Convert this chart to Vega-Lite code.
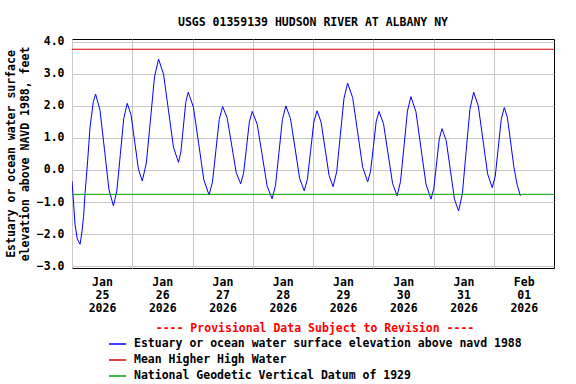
{
  "$schema": "https://vega.github.io/schema/vega-lite/v6.json",
  "width": 482,
  "height": 229,
  "autosize": {"type": "none"},
  "padding": {"left": 72, "top": 39, "right": 22, "bottom": 116},
  "background": "white",
  "config": {
    "font": "DejaVu Sans Mono",
    "view": {"stroke": "black", "strokeWidth": 1},
    "axis": {"labelFont": "DejaVu Sans Mono", "labelFontWeight": "bold", "labelFontSize": 11.5, "labelColor": "black", "titleFont": "DejaVu Sans Mono", "titleFontWeight": "bold", "titleFontSize": 11.5, "titleColor": "black", "gridColor": "#c8c8c8", "gridOpacity": 1, "gridWidth": 1, "ticks": false, "domain": false},
    "legend": {"labelFont": "DejaVu Sans Mono", "labelFontWeight": "bold", "labelFontSize": 11.5, "labelColor": "black", "titleFont": "DejaVu Sans Mono", "titleFontWeight": "bold", "titleFontSize": 11.5}
  },
  "title": {"text": "USGS 01359139 HUDSON RIVER AT ALBANY NY", "font": "DejaVu Sans Mono", "fontSize": 11.5, "fontWeight": "bold", "color": "black", "anchor": "middle", "offset": 7},
  "data": {"values": [
    {"t": "2026-01-25T00:00", "v": -0.34, "s": "Estuary or ocean water surface elevation above navd 1988"},
    {"t": "2026-01-25T00:36", "v": -1.0, "s": "Estuary or ocean water surface elevation above navd 1988"},
    {"t": "2026-01-25T01:12", "v": -1.7, "s": "Estuary or ocean water surface elevation above navd 1988"},
    {"t": "2026-01-25T02:06", "v": -2.15, "s": "Estuary or ocean water surface elevation above navd 1988"},
    {"t": "2026-01-25T03:12", "v": -2.32, "s": "Estuary or ocean water surface elevation above navd 1988"},
    {"t": "2026-01-25T03:54", "v": -1.97, "s": "Estuary or ocean water surface elevation above navd 1988"},
    {"t": "2026-01-25T04:36", "v": -1.46, "s": "Estuary or ocean water surface elevation above navd 1988"},
    {"t": "2026-01-25T05:12", "v": -0.73, "s": "Estuary or ocean water surface elevation above navd 1988"},
    {"t": "2026-01-25T06:15", "v": 0.31, "s": "Estuary or ocean water surface elevation above navd 1988"},
    {"t": "2026-01-25T07:12", "v": 1.35, "s": "Estuary or ocean water surface elevation above navd 1988"},
    {"t": "2026-01-25T08:30", "v": 2.13, "s": "Estuary or ocean water surface elevation above navd 1988"},
    {"t": "2026-01-25T09:24", "v": 2.37, "s": "Estuary or ocean water surface elevation above navd 1988"},
    {"t": "2026-01-25T11:10", "v": 1.86, "s": "Estuary or ocean water surface elevation above navd 1988"},
    {"t": "2026-01-25T12:57", "v": 0.63, "s": "Estuary or ocean water surface elevation above navd 1988"},
    {"t": "2026-01-25T14:43", "v": -0.61, "s": "Estuary or ocean water surface elevation above navd 1988"},
    {"t": "2026-01-25T16:30", "v": -1.12, "s": "Estuary or ocean water surface elevation above navd 1988"},
    {"t": "2026-01-25T17:52", "v": -0.65, "s": "Estuary or ocean water surface elevation above navd 1988"},
    {"t": "2026-01-25T19:15", "v": 0.48, "s": "Estuary or ocean water surface elevation above navd 1988"},
    {"t": "2026-01-25T20:37", "v": 1.61, "s": "Estuary or ocean water surface elevation above navd 1988"},
    {"t": "2026-01-25T22:00", "v": 2.08, "s": "Estuary or ocean water surface elevation above navd 1988"},
    {"t": "2026-01-25T23:30", "v": 1.73, "s": "Estuary or ocean water surface elevation above navd 1988"},
    {"t": "2026-01-26T01:00", "v": 0.87, "s": "Estuary or ocean water surface elevation above navd 1988"},
    {"t": "2026-01-26T02:30", "v": 0.01, "s": "Estuary or ocean water surface elevation above navd 1988"},
    {"t": "2026-01-26T04:00", "v": -0.34, "s": "Estuary or ocean water surface elevation above navd 1988"},
    {"t": "2026-01-26T05:37", "v": 0.22, "s": "Estuary or ocean water surface elevation above navd 1988"},
    {"t": "2026-01-26T07:15", "v": 1.56, "s": "Estuary or ocean water surface elevation above navd 1988"},
    {"t": "2026-01-26T08:52", "v": 2.91, "s": "Estuary or ocean water surface elevation above navd 1988"},
    {"t": "2026-01-26T10:30", "v": 3.46, "s": "Estuary or ocean water surface elevation above navd 1988"},
    {"t": "2026-01-26T12:28", "v": 2.99, "s": "Estuary or ocean water surface elevation above navd 1988"},
    {"t": "2026-01-26T14:27", "v": 1.85, "s": "Estuary or ocean water surface elevation above navd 1988"},
    {"t": "2026-01-26T16:25", "v": 0.71, "s": "Estuary or ocean water surface elevation above navd 1988"},
    {"t": "2026-01-26T18:24", "v": 0.24, "s": "Estuary or ocean water surface elevation above navd 1988"},
    {"t": "2026-01-26T19:22", "v": 0.56, "s": "Estuary or ocean water surface elevation above navd 1988"},
    {"t": "2026-01-26T20:21", "v": 1.34, "s": "Estuary or ocean water surface elevation above navd 1988"},
    {"t": "2026-01-26T21:19", "v": 2.11, "s": "Estuary or ocean water surface elevation above navd 1988"},
    {"t": "2026-01-26T22:18", "v": 2.43, "s": "Estuary or ocean water surface elevation above navd 1988"},
    {"t": "2026-01-27T00:22", "v": 1.96, "s": "Estuary or ocean water surface elevation above navd 1988"},
    {"t": "2026-01-27T02:27", "v": 0.83, "s": "Estuary or ocean water surface elevation above navd 1988"},
    {"t": "2026-01-27T04:31", "v": -0.31, "s": "Estuary or ocean water surface elevation above navd 1988"},
    {"t": "2026-01-27T06:36", "v": -0.78, "s": "Estuary or ocean water surface elevation above navd 1988"},
    {"t": "2026-01-27T07:57", "v": -0.38, "s": "Estuary or ocean water surface elevation above navd 1988"},
    {"t": "2026-01-27T09:18", "v": 0.6, "s": "Estuary or ocean water surface elevation above navd 1988"},
    {"t": "2026-01-27T10:39", "v": 1.58, "s": "Estuary or ocean water surface elevation above navd 1988"},
    {"t": "2026-01-27T12:00", "v": 1.98, "s": "Estuary or ocean water surface elevation above navd 1988"},
    {"t": "2026-01-27T13:48", "v": 1.63, "s": "Estuary or ocean water surface elevation above navd 1988"},
    {"t": "2026-01-27T15:36", "v": 0.78, "s": "Estuary or ocean water surface elevation above navd 1988"},
    {"t": "2026-01-27T17:24", "v": -0.08, "s": "Estuary or ocean water surface elevation above navd 1988"},
    {"t": "2026-01-27T19:12", "v": -0.43, "s": "Estuary or ocean water surface elevation above navd 1988"},
    {"t": "2026-01-27T20:21", "v": -0.1, "s": "Estuary or ocean water surface elevation above navd 1988"},
    {"t": "2026-01-27T21:30", "v": 0.7, "s": "Estuary or ocean water surface elevation above navd 1988"},
    {"t": "2026-01-27T22:39", "v": 1.5, "s": "Estuary or ocean water surface elevation above navd 1988"},
    {"t": "2026-01-27T23:48", "v": 1.83, "s": "Estuary or ocean water surface elevation above navd 1988"},
    {"t": "2026-01-28T01:46", "v": 1.43, "s": "Estuary or ocean water surface elevation above navd 1988"},
    {"t": "2026-01-28T03:45", "v": 0.47, "s": "Estuary or ocean water surface elevation above navd 1988"},
    {"t": "2026-01-28T05:43", "v": -0.5, "s": "Estuary or ocean water surface elevation above navd 1988"},
    {"t": "2026-01-28T07:42", "v": -0.9, "s": "Estuary or ocean water surface elevation above navd 1988"},
    {"t": "2026-01-28T09:04", "v": -0.48, "s": "Estuary or ocean water surface elevation above navd 1988"},
    {"t": "2026-01-28T10:27", "v": 0.55, "s": "Estuary or ocean water surface elevation above navd 1988"},
    {"t": "2026-01-28T11:49", "v": 1.58, "s": "Estuary or ocean water surface elevation above navd 1988"},
    {"t": "2026-01-28T13:12", "v": 2.0, "s": "Estuary or ocean water surface elevation above navd 1988"},
    {"t": "2026-01-28T15:01", "v": 1.61, "s": "Estuary or ocean water surface elevation above navd 1988"},
    {"t": "2026-01-28T16:51", "v": 0.68, "s": "Estuary or ocean water surface elevation above navd 1988"},
    {"t": "2026-01-28T18:40", "v": -0.26, "s": "Estuary or ocean water surface elevation above navd 1988"},
    {"t": "2026-01-28T20:30", "v": -0.65, "s": "Estuary or ocean water surface elevation above navd 1988"},
    {"t": "2026-01-28T21:46", "v": -0.29, "s": "Estuary or ocean water surface elevation above navd 1988"},
    {"t": "2026-01-28T23:03", "v": 0.6, "s": "Estuary or ocean water surface elevation above navd 1988"},
    {"t": "2026-01-29T00:19", "v": 1.49, "s": "Estuary or ocean water surface elevation above navd 1988"},
    {"t": "2026-01-29T01:36", "v": 1.85, "s": "Estuary or ocean water surface elevation above navd 1988"},
    {"t": "2026-01-29T03:12", "v": 1.5, "s": "Estuary or ocean water surface elevation above navd 1988"},
    {"t": "2026-01-29T04:48", "v": 0.67, "s": "Estuary or ocean water surface elevation above navd 1988"},
    {"t": "2026-01-29T06:24", "v": -0.17, "s": "Estuary or ocean water surface elevation above navd 1988"},
    {"t": "2026-01-29T08:00", "v": -0.52, "s": "Estuary or ocean water surface elevation above navd 1988"},
    {"t": "2026-01-29T09:27", "v": -0.05, "s": "Estuary or ocean water surface elevation above navd 1988"},
    {"t": "2026-01-29T10:54", "v": 1.1, "s": "Estuary or ocean water surface elevation above navd 1988"},
    {"t": "2026-01-29T12:21", "v": 2.24, "s": "Estuary or ocean water surface elevation above navd 1988"},
    {"t": "2026-01-29T13:48", "v": 2.71, "s": "Estuary or ocean water surface elevation above navd 1988"},
    {"t": "2026-01-29T15:48", "v": 2.26, "s": "Estuary or ocean water surface elevation above navd 1988"},
    {"t": "2026-01-29T17:48", "v": 1.17, "s": "Estuary or ocean water surface elevation above navd 1988"},
    {"t": "2026-01-29T19:48", "v": 0.08, "s": "Estuary or ocean water surface elevation above navd 1988"},
    {"t": "2026-01-29T21:48", "v": -0.37, "s": "Estuary or ocean water surface elevation above navd 1988"},
    {"t": "2026-01-29T22:55", "v": -0.05, "s": "Estuary or ocean water surface elevation above navd 1988"},
    {"t": "2026-01-30T00:03", "v": 0.73, "s": "Estuary or ocean water surface elevation above navd 1988"},
    {"t": "2026-01-30T01:10", "v": 1.51, "s": "Estuary or ocean water surface elevation above navd 1988"},
    {"t": "2026-01-30T02:18", "v": 1.83, "s": "Estuary or ocean water surface elevation above navd 1988"},
    {"t": "2026-01-30T04:06", "v": 1.44, "s": "Estuary or ocean water surface elevation above navd 1988"},
    {"t": "2026-01-30T05:54", "v": 0.51, "s": "Estuary or ocean water surface elevation above navd 1988"},
    {"t": "2026-01-30T07:42", "v": -0.42, "s": "Estuary or ocean water surface elevation above navd 1988"},
    {"t": "2026-01-30T09:30", "v": -0.81, "s": "Estuary or ocean water surface elevation above navd 1988"},
    {"t": "2026-01-30T10:52", "v": -0.36, "s": "Estuary or ocean water surface elevation above navd 1988"},
    {"t": "2026-01-30T12:15", "v": 0.74, "s": "Estuary or ocean water surface elevation above navd 1988"},
    {"t": "2026-01-30T13:37", "v": 1.84, "s": "Estuary or ocean water surface elevation above navd 1988"},
    {"t": "2026-01-30T15:00", "v": 2.29, "s": "Estuary or ocean water surface elevation above navd 1988"},
    {"t": "2026-01-30T17:00", "v": 1.82, "s": "Estuary or ocean water surface elevation above navd 1988"},
    {"t": "2026-01-30T19:00", "v": 0.69, "s": "Estuary or ocean water surface elevation above navd 1988"},
    {"t": "2026-01-30T21:00", "v": -0.44, "s": "Estuary or ocean water surface elevation above navd 1988"},
    {"t": "2026-01-30T23:00", "v": -0.91, "s": "Estuary or ocean water surface elevation above navd 1988"},
    {"t": "2026-01-31T00:06", "v": -0.59, "s": "Estuary or ocean water surface elevation above navd 1988"},
    {"t": "2026-01-31T01:12", "v": 0.19, "s": "Estuary or ocean water surface elevation above navd 1988"},
    {"t": "2026-01-31T02:18", "v": 0.97, "s": "Estuary or ocean water surface elevation above navd 1988"},
    {"t": "2026-01-31T03:24", "v": 1.29, "s": "Estuary or ocean water surface elevation above navd 1988"},
    {"t": "2026-01-31T05:03", "v": 0.92, "s": "Estuary or ocean water surface elevation above navd 1988"},
    {"t": "2026-01-31T06:42", "v": 0.01, "s": "Estuary or ocean water surface elevation above navd 1988"},
    {"t": "2026-01-31T08:21", "v": -0.91, "s": "Estuary or ocean water surface elevation above navd 1988"},
    {"t": "2026-01-31T10:00", "v": -1.28, "s": "Estuary or ocean water surface elevation above navd 1988"},
    {"t": "2026-01-31T11:30", "v": -0.74, "s": "Estuary or ocean water surface elevation above navd 1988"},
    {"t": "2026-01-31T13:00", "v": 0.58, "s": "Estuary or ocean water surface elevation above navd 1988"},
    {"t": "2026-01-31T14:30", "v": 1.89, "s": "Estuary or ocean water surface elevation above navd 1988"},
    {"t": "2026-01-31T16:00", "v": 2.43, "s": "Estuary or ocean water surface elevation above navd 1988"},
    {"t": "2026-01-31T17:51", "v": 2.0, "s": "Estuary or ocean water surface elevation above navd 1988"},
    {"t": "2026-01-31T19:42", "v": 0.94, "s": "Estuary or ocean water surface elevation above navd 1988"},
    {"t": "2026-01-31T21:33", "v": -0.12, "s": "Estuary or ocean water surface elevation above navd 1988"},
    {"t": "2026-01-31T23:24", "v": -0.55, "s": "Estuary or ocean water surface elevation above navd 1988"},
    {"t": "2026-02-01T00:36", "v": -0.19, "s": "Estuary or ocean water surface elevation above navd 1988"},
    {"t": "2026-02-01T01:48", "v": 0.7, "s": "Estuary or ocean water surface elevation above navd 1988"},
    {"t": "2026-02-01T03:00", "v": 1.59, "s": "Estuary or ocean water surface elevation above navd 1988"},
    {"t": "2026-02-01T04:12", "v": 1.95, "s": "Estuary or ocean water surface elevation above navd 1988"},
    {"t": "2026-02-01T05:24", "v": 1.65, "s": "Estuary or ocean water surface elevation above navd 1988"},
    {"t": "2026-02-01T06:36", "v": 0.95, "s": "Estuary or ocean water surface elevation above navd 1988"},
    {"t": "2026-02-01T08:00", "v": 0.1, "s": "Estuary or ocean water surface elevation above navd 1988"},
    {"t": "2026-02-01T09:18", "v": -0.45, "s": "Estuary or ocean water surface elevation above navd 1988"},
    {"t": "2026-02-01T10:36", "v": -0.81, "s": "Estuary or ocean water surface elevation above navd 1988"},
    {"t": "2026-01-25T00:00", "v": 3.77, "s": "Mean Higher High Water"},
    {"t": "2026-02-02T00:00", "v": 3.77, "s": "Mean Higher High Water"},
    {"t": "2026-01-25T00:00", "v": -0.76, "s": "National Geodetic Vertical Datum of 1929"},
    {"t": "2026-02-02T00:00", "v": -0.76, "s": "National Geodetic Vertical Datum of 1929"}
  ]},
  "mark": {"type": "line", "strokeWidth": 1, "clip": true},
  "encoding": {
    "x": {
      "field": "t", "type": "temporal",
      "scale": {"domain": ["2026-01-25T00:00", "2026-02-02T00:00"]},
      "axis": {
        "title": null,
        "values": ["2026-01-25T00:00", "2026-01-26T00:00", "2026-01-27T00:00", "2026-01-28T00:00", "2026-01-29T00:00", "2026-01-30T00:00", "2026-01-31T00:00", "2026-02-01T00:00"],
        "labelExpr": "[timeFormat(datum.value, '%b'), timeFormat(datum.value, '%d'), timeFormat(datum.value, '%Y')]",
        "labelOffset": 30,
        "labelPadding": 8,
        "labelLineHeight": 13,
        "labelAlign": "center",
        "labelOverlap": false,
        "labelFlush": false
      }
    },
    "y": {
      "field": "v", "type": "quantitative",
      "scale": {"domain": [-3.06, 4.09], "nice": false, "zero": false},
      "axis": {
        "title": ["Estuary or ocean water surface", "elevation above NAVD 1988, feet"],
        "values": [-3, -2, -1, 0, 1, 2, 3, 4],
        "format": ".1f",
        "labelPadding": 8,
        "titlePadding": 6,
        "titleLineHeight": 14
      }
    },
    "color": {
      "field": "s", "type": "nominal",
      "scale": {"domain": ["Estuary or ocean water surface elevation above navd 1988", "Mean Higher High Water", "National Geodetic Vertical Datum of 1929"], "range": ["#0000ff", "#dd0000", "#00a000"]},
      "legend": {
        "title": "---- Provisional Data Subject to Revision ----",
        "titleColor": "#ff0000",
        "titleAnchor": "middle",
        "titleLimit": 600,
        "titlePadding": 0,
        "orient": "none",
        "legendX": 36,
        "legendY": 284,
        "direction": "vertical",
        "padding": 0,
        "symbolType": "stroke",
        "symbolSize": 289,
        "symbolStrokeWidth": 1.5,
        "labelOffset": 7,
        "labelLimit": 600,
        "rowPadding": 1
      }
    }
  }
}
